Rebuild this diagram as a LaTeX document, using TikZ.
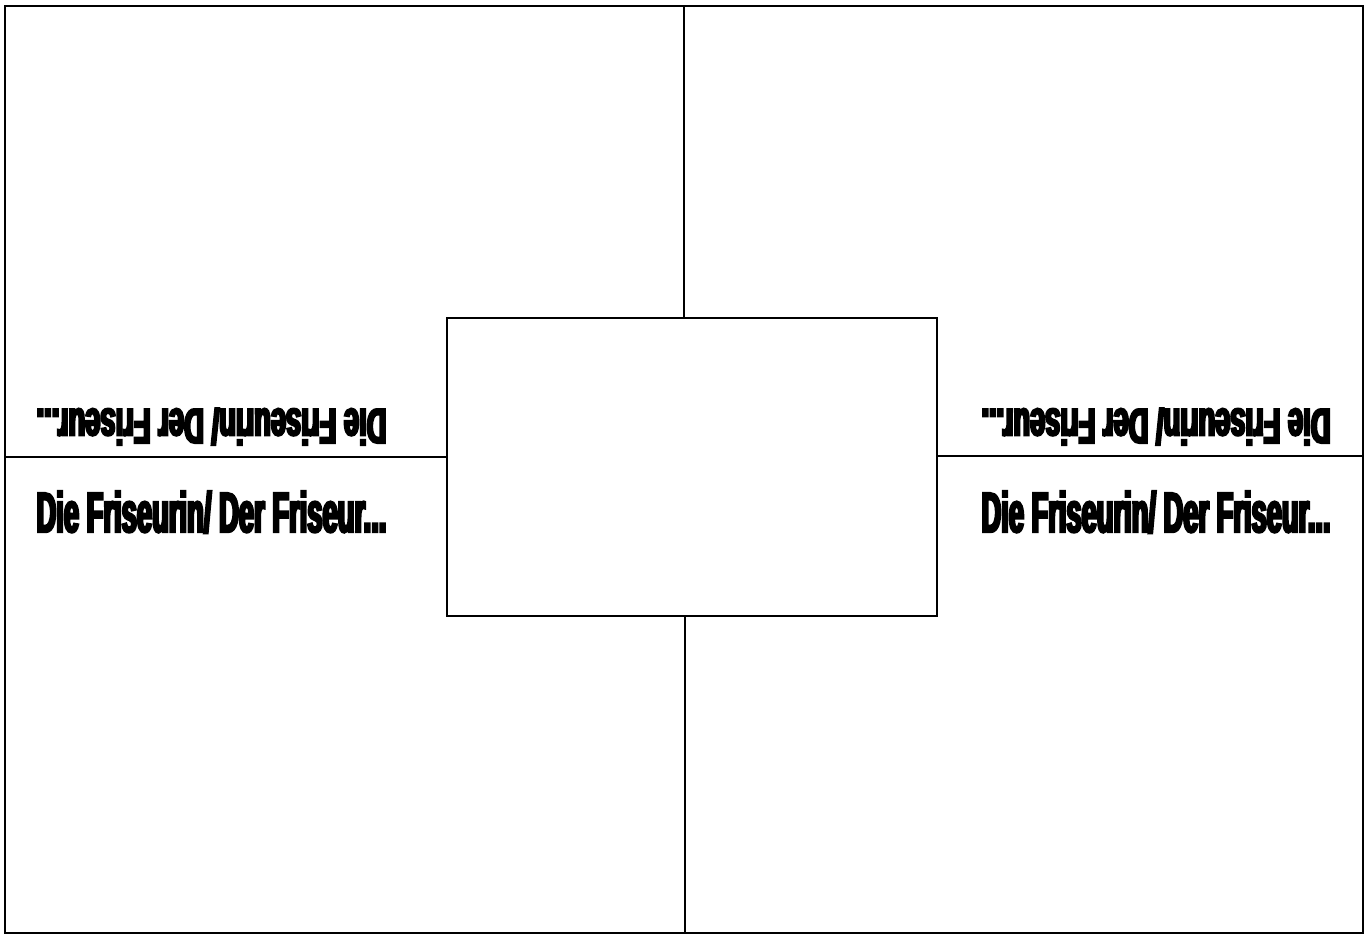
\documentclass[tikz,border=0pt]{standalone}
\usepackage{fontspec}
\usepackage{graphicx}
\newfontfamily\posterfont[FakeStretch=0.42,FakeBold=4]{Liberation Sans}
\newcommand{\friseurtext}{Die Friseurin/ Der Friseur...}
\tikzset{
  kasten/.style={draw,rectangle,inner sep=0pt},
  schrift/.style={inner sep=0pt,anchor=base,font=\posterfont\bfseries}
}

\begin{document}
\begin{tikzpicture}[x=0.02cm,y=-0.02cm,line width=1.1pt]
    \useasboundingbox (0,0) rectangle (1372,934);

    % Frame and centre box
    \node[kasten,minimum width=27.16cm,minimum height=18.54cm] (rahmen) at (684,469.5) {};
    \node[kasten,minimum width=9.8cm,minimum height=5.96cm] (mitte) at (692,467) {};

    % Dividers
    \coordinate (oben) at (684,6);
    \coordinate (unten) at (685,933);
    \coordinate (links) at (5,457);
    \coordinate (rechts) at (1363,456);
    \draw (oben) -- (oben |- mitte.north);
    \draw (unten) -- (unten |- mitte.south);
    \draw (links) -- (links -| mitte.west);
    \draw (rechts) -- (rechts -| mitte.east);

    % Labels
    \node[schrift] (untenlinks) at (211.5,532) {\resizebox{7.0cm}{0.82cm}{\friseurtext}};
    \node[schrift,rotate=180] (obenlinks) at (211.5,409) {\resizebox{7.0cm}{0.72cm}{\friseurtext}};
    \node[schrift] (untenrechts) at (1156,532) {\resizebox{6.98cm}{0.82cm}{\friseurtext}};
    \node[schrift,rotate=180] (obenrechts) at (1156,409) {\resizebox{6.98cm}{0.72cm}{\friseurtext}};
\end{tikzpicture}
\end{document}
